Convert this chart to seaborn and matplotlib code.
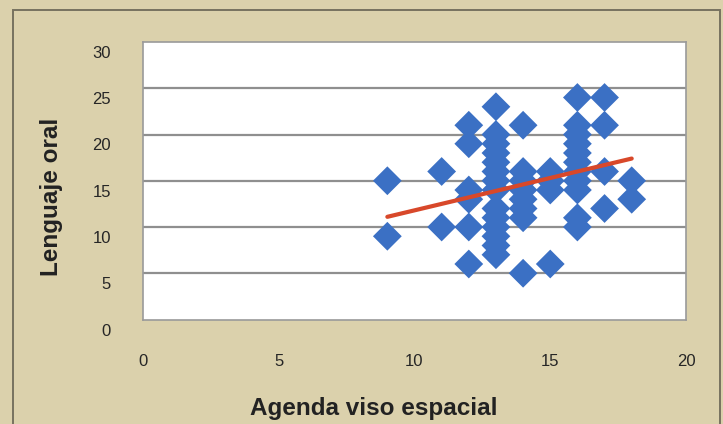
import matplotlib
matplotlib.use("Agg")
import matplotlib.pyplot as plt
import matplotlib.transforms as mtransforms
from matplotlib.patches import Rectangle
import seaborn as sns
import pandas as pd

# Scores: visuospatial sketchpad (x) vs oral language (y)
agenda_viso_espacial = (
    [9, 9]
    + [11, 11]
    + [12] * 6
    + [13] * 14
    + [14] * 8
    + [15] * 4
    + [16] * 11
    + [17] * 4
    + [18, 18]
)
lenguaje_oral = (
    [15, 9]
    + [16, 10]
    + [21, 19, 14, 13, 10, 6]
    + [23, 20, 19, 18, 17, 16, 15, 14, 12, 11, 10, 9, 8, 7]
    + [21, 16, 15, 14, 13, 12, 11, 5]
    + [16, 15, 14, 6]
    + [24, 21, 20, 19, 18, 17, 16, 15, 14, 11, 10]
    + [24, 21, 16, 12]
    + [15, 13]
)

# Linear trend line end points
trend_x = [9, 18]
trend_y = [11.1, 17.4]

x_ticks = [0, 5, 10, 15, 20]
y_ticks = [0, 5, 10, 15, 20, 25, 30]

df = pd.DataFrame({"Agenda viso espacial": agenda_viso_espacial,
                   "Lenguaje oral": lenguaje_oral})
trend = pd.DataFrame({"x": trend_x, "y": trend_y})

sns.set_theme(style="white")
plt.rcParams["font.family"] = ["Liberation Sans", "DejaVu Sans"]

W, H = 723, 424
fig = plt.figure(figsize=(W / 100, H / 100), dpi=100)
bg = "#DBD1AC"
fig.patch.set_facecolor(bg)

# outer frame of the panel
fig.add_artist(Rectangle((13 / W, 1 - 430 / H), (720 - 13) / W, (430 - 10) / H,
                         transform=fig.transFigure, fill=False,
                         edgecolor="#77725f", linewidth=1.4))

left, right, top, bottom = 143, 686, 42, 319.5
ax = fig.add_axes([left / W, 1 - bottom / H, (right - left) / W, (bottom - top) / H])
ax.set_facecolor("white")

sns.scatterplot(data=df, x="Agenda viso espacial", y="Lenguaje oral", ax=ax,
                marker="D", s=215, color="#3B70C4", edgecolor="none",
                linewidth=0, zorder=3)
sns.lineplot(data=trend, x="x", y="y", ax=ax, color="#D8482A",
             linewidth=3.0, zorder=4)

ax.set_xlim(0, 20)
ax.set_ylim(0, 30)
ax.set_xticks(x_ticks)
ax.set_yticks(y_ticks)
ax.set_xticklabels([str(t) for t in x_ticks])
ax.set_yticklabels([str(t) for t in y_ticks])

for yv in y_ticks[1:-1]:
    ax.axhline(yv, color="#8f8f8f", linewidth=1.6, zorder=1)

for side in ["top", "right", "bottom", "left"]:
    ax.spines[side].set_visible(True)
    ax.spines[side].set_color("#9a9a9a")
    ax.spines[side].set_linewidth(1.2)

ax.tick_params(axis="x", length=0, pad=25, labelsize=12, labelcolor="#262626")
ax.tick_params(axis="y", length=0, pad=23, labelsize=12, labelcolor="#262626")

shift = mtransforms.ScaledTranslation(0, -10 / 100, fig.dpi_scale_trans)
for lab in ax.get_yticklabels():
    lab.set_transform(lab.get_transform() + shift)

ax.set_xlabel("")
ax.set_ylabel("")
fig.text(374 / W, 1 - 408 / H, "Agenda viso espacial", ha="center", va="center",
         fontsize=17.5, fontweight="bold", color="#222222")
fig.text(52 / W, 1 - 197 / H, "Lenguaje oral", ha="center", va="center",
         rotation=90, fontsize=17.5, fontweight="bold", color="#222222")

fig.savefig("out.png", dpi=100, facecolor=fig.get_facecolor())
